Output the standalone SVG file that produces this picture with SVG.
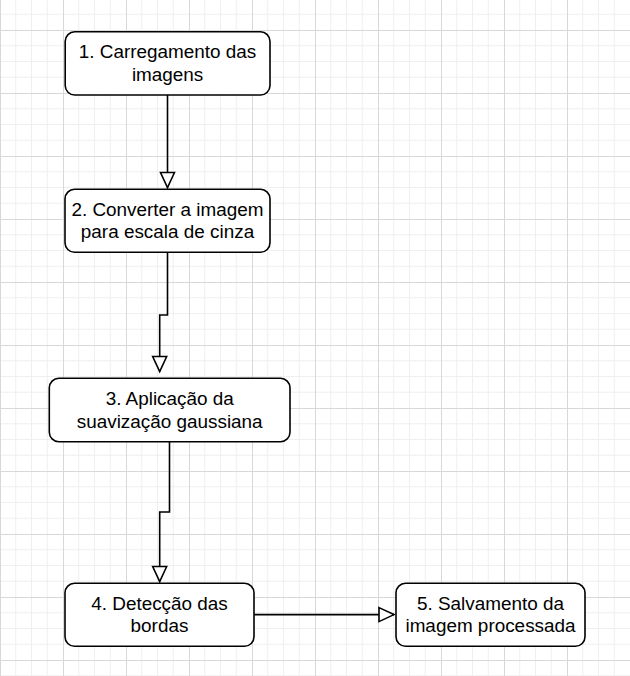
<svg xmlns="http://www.w3.org/2000/svg" width="630" height="676" viewBox="0 0 630 676">
<style>
.node rect{fill:#ffffff;stroke:#000000;stroke-width:1.6}
.node text{font-family:"Liberation Sans",Arial,Helvetica,sans-serif;font-size:18.9px;fill:#000000;text-anchor:middle}
.edge{fill:none;stroke:#000000;stroke-width:1.6;marker-end:url(#arrow)}
</style>
<defs>
<pattern id="grid" x="0" y="30" width="63" height="63" patternUnits="userSpaceOnUse">
<path d="M15.75 0V63M31.5 0V63M47.25 0V63M0 15.75H63M0 31.5H63M0 47.25H63" stroke="#efefef" stroke-width="1" fill="none"/>
<path d="M0.5 0V63M0 0.5H63" stroke="#d8d8d8" stroke-width="1" fill="none"/>
</pattern>
<marker id="arrow" markerUnits="userSpaceOnUse" markerWidth="20" markerHeight="20" viewBox="-2 -2 20 18" refX="15" refY="7" orient="auto">
<path d="M0,0 L15,7 L0,14 Z" fill="#ffffff" stroke="#000000" stroke-width="1.6" stroke-linejoin="miter"/>
</marker>
</defs>
<rect x="0" y="0" width="630" height="676" fill="#ffffff"/>
<rect x="0" y="0" width="630" height="676" fill="url(#grid)"/>
<g id="connectors">
<path class="edge" d="M167.5 95V187.5"/>
<path class="edge" d="M167.5 252.3V315H159.7V371.5"/>
<path class="edge" d="M169.5 441.7V512H159.7V581.5"/>
<path class="edge" d="M254 614.6H394"/>
</g>
<g id="node1" class="node">
<rect x="65.2" y="31.8" width="204.8" height="63.2" rx="9.5"/>
<text x="167.6" y="58.3">1. Carregamento das</text>
<text x="167.6" y="81">imagens</text>
</g>
<g id="node2" class="node">
<rect x="65" y="189.3" width="205" height="63" rx="9.5"/>
<text x="167.5" y="215.5">2. Converter a imagem</text>
<text x="167.5" y="238.2">para escala de cinza</text>
</g>
<g id="node3" class="node">
<rect x="49.3" y="378.3" width="240.7" height="63.4" rx="9.5"/>
<text x="169.7" y="405">3. Aplicação da</text>
<text x="169.7" y="427.7">suavização gaussiana</text>
</g>
<g id="node4" class="node">
<rect x="65" y="583.3" width="189" height="63" rx="9.5"/>
<text x="159.5" y="609.7">4. Detecção das</text>
<text x="159.5" y="632.4">bordas</text>
</g>
<g id="node5" class="node">
<rect x="396" y="583.3" width="189" height="63" rx="9.5"/>
<text x="490.5" y="609.7">5. Salvamento da</text>
<text x="490.5" y="632.4">imagem processada</text>
</g>
</svg>
